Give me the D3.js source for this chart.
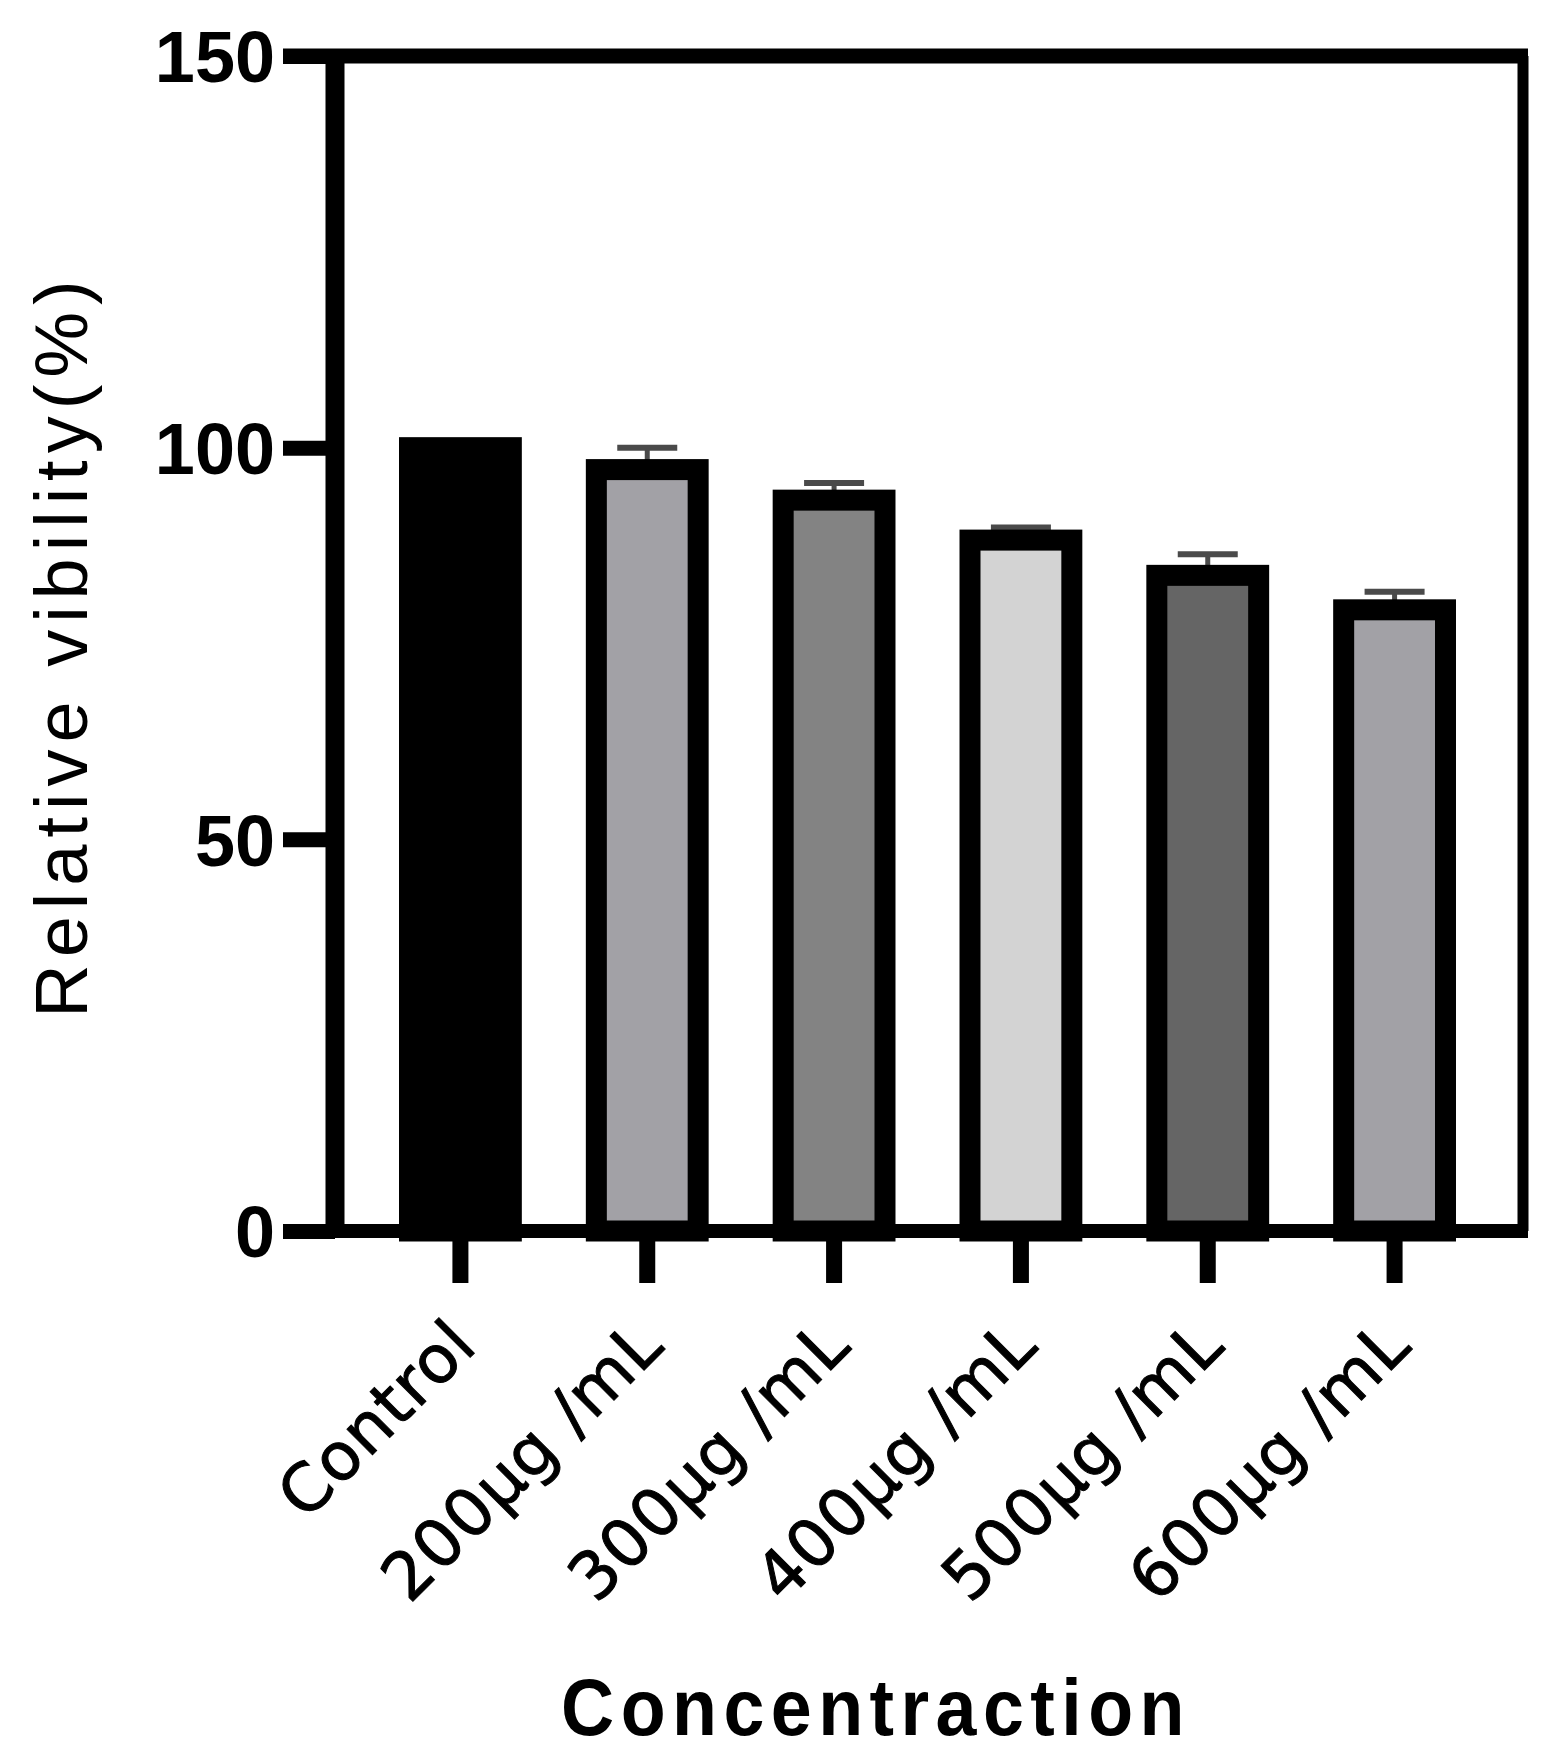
<!DOCTYPE html>
<html>
<head>
<meta charset="utf-8">
<script src="https://cdn.jsdelivr.net/npm/d3@7"></script>
<style>
    html, body { margin: 0; padding: 0; background: #ffffff; }
    #graph-svg { display: block; }
</style>
</head>
<body>
<svg id="graph-svg"></svg>
<script>

// values
const categories = ['Control', '200μg /mL', '300μg /mL', '400μg /mL', '500μg /mL', '600μg /mL'];
const viability = [100, 97.2, 93.3, 88.2, 83.7, 79.3];
const errors = [0, 2.8, 2.2, 1.6, 2.7, 2.3];
const fills = ['#000000', '#a2a1a6', '#838383', '#d3d3d3', '#656565', '#a2a1a6'];
const yTicks = [0, 50, 100, 150];

const svgWidth = 1556;
const svgHeight = 1760;

const plotLeft = 335;
const plotRight = 1523;
const plotTop = 56;
const plotBottom = 1231;
const tickLength = 52;
const barStroke = 21;

const svg = d3.select('#graph-svg')
      .attr('width', svgWidth)
      .attr('height', svgHeight);

const x = d3.scaleBand()
      .domain(categories)
      .range([367, 1488])
      .paddingInner(0.455)
      .paddingOuter(0.2275);

const y = d3.scaleLinear()
      .domain([0, 150])
      .range([plotBottom, plotTop]);

const barData = categories.map((name, i) => ({name, value: viability[i], sd: errors[i], fill: fills[i]}));

// error bars first, the thick bar outline hides their lower part
const errorGroup = svg.append('g').attr('id', 'error-group');
const capHalf = 30;
barData.filter(d => d.sd > 0).forEach(d => {
    const cx = x(d.name) + x.bandwidth() / 2;
    errorGroup.append('line')
        .attr('x1', cx).attr('x2', cx)
        .attr('y1', y(d.value)).attr('y2', y(d.value + d.sd))
        .attr('stroke', '#4a4a4a').attr('stroke-width', 5);
    errorGroup.append('line')
        .attr('x1', cx - capHalf).attr('x2', cx + capHalf)
        .attr('y1', y(d.value + d.sd)).attr('y2', y(d.value + d.sd))
        .attr('stroke', '#4a4a4a').attr('stroke-width', 6);
});

svg.append('g').attr('id', 'bar-group')
    .selectAll('rect')
    .data(barData)
    .enter()
    .append('rect')
    .attr('x', d => x(d.name))
    .attr('y', d => y(d.value))
    .attr('width', x.bandwidth())
    .attr('height', d => y(0) - y(d.value))
    .attr('fill', d => d.fill)
    .attr('stroke', '#000')
    .attr('stroke-width', barStroke);

// frame: top, right and bottom lines
const frame = svg.append('g').attr('id', 'frame');
frame.append('line')
    .attr('x1', plotLeft - tickLength).attr('x2', plotRight + 5)
    .attr('y1', y(150)).attr('y2', y(150))
    .attr('stroke', '#000').attr('stroke-width', 15);
frame.append('line')
    .attr('x1', plotRight).attr('x2', plotRight)
    .attr('y1', y(150)).attr('y2', y(0))
    .attr('stroke', '#000').attr('stroke-width', 11);
frame.append('line')
    .attr('x1', plotLeft - tickLength).attr('x2', plotRight + 5)
    .attr('y1', y(0)).attr('y2', y(0))
    .attr('stroke', '#000').attr('stroke-width', 14);

// y axis
const yAxis = d3.axisLeft(y)
      .tickValues(yTicks)
      .tickSize(tickLength)
      .tickSizeOuter(0)
      .tickPadding(8);
const yAxisGroup = svg.append('g')
      .attr('transform', `translate(${plotLeft},0)`)
      .call(yAxis);
yAxisGroup.select('.domain')
    .attr('stroke', '#000')
    .attr('stroke-width', 19)
    .attr('d', `M0,${y(150) - 7}V${y(0) + 7}`);
yAxisGroup.selectAll('.tick line')
    .attr('stroke', '#000')
    .attr('stroke-width', 15);
yAxisGroup.selectAll('.tick text')
    .attr('fill', '#000')
    .attr('font-family', '"Liberation Sans", Arial, sans-serif')
    .attr('font-weight', 'bold')
    .attr('font-size', 72)
    .attr('dy', '0.36em');

// x axis, ticks below the frame
const xAxis = d3.axisBottom(x)
      .tickSize(tickLength)
      .tickSizeOuter(0)
      .tickFormat(() => '');
const xAxisGroup = svg.append('g')
      .attr('transform', `translate(0,${plotBottom})`)
      .call(xAxis);
xAxisGroup.select('.domain').remove();
xAxisGroup.selectAll('.tick line')
    .attr('stroke', '#000')
    .attr('stroke-width', 16);

// rotated category labels
svg.append('g').attr('id', 'x-labels')
    .selectAll('text')
    .data(categories)
    .enter()
    .append('text')
    .attr('transform', d => `translate(${x(d) + x.bandwidth() / 2 + 19},${plotBottom + 117}) rotate(-45)`)
    .attr('text-anchor', 'end')
    .attr('font-family', '"DejaVu Sans", Verdana, sans-serif')
    .attr('font-size', 66)
    .attr('letter-spacing', 1)
    .attr('fill', '#000')
    .attr('stroke', '#000')
    .attr('stroke-width', 1)
    .text(d => d);

// axis titles
svg.append('text')
    .attr('transform', `translate(87,${(275 + 1016) / 2}) rotate(-90)`)
    .attr('text-anchor', 'middle')
    .attr('font-family', '"Liberation Sans", Arial, sans-serif')
    .attr('font-size', 74)
    .attr('letter-spacing', 7)
    .attr('fill', '#000')
    .text('Relative vibility(%)');

svg.append('text')
    .attr('transform', 'translate(876,1735) scale(0.92,1)')
    .attr('text-anchor', 'middle')
    .attr('font-family', '"Liberation Sans", Arial, sans-serif')
    .attr('font-weight', 'bold')
    .attr('font-size', 80)
    .attr('letter-spacing', 7)
    .attr('fill', '#000')
    .text('Concentraction');

</script>
</body>
</html>
